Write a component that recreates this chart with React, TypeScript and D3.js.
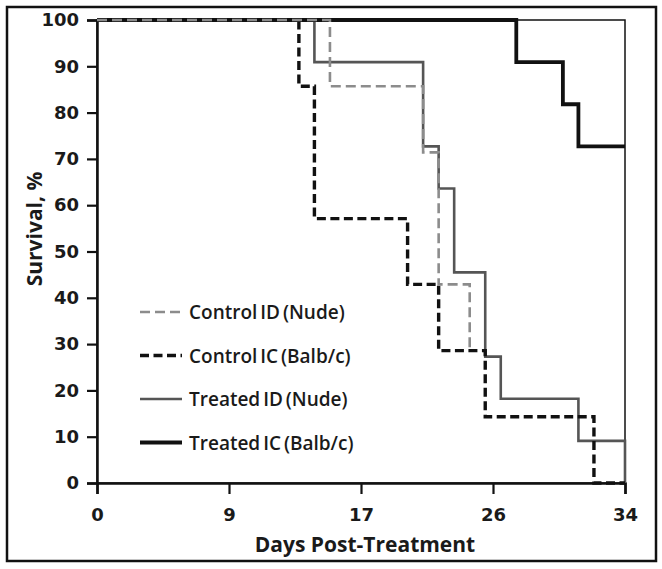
import React, { useEffect, useRef } from "react";
import * as d3 from "d3";

// survival curves (days, % surviving)
const controlIdDays = [0, 15, 21, 22, 24];
const controlIdSurv = [100, 85.7, 71.4, 42.9, 28.6];

const controlIcDays = [0, 13, 14, 20, 22, 25, 32, 34];
const controlIcSurv = [100, 85.7, 57.1, 42.9, 28.6, 14.3, 0, 0];

const treatedIdDays = [0, 14, 21, 22, 23, 25, 26, 31, 34];
const treatedIdSurv = [100, 90.9, 72.7, 63.6, 45.5, 27.3, 18.2, 9.1, 0];

const treatedIcDays = [0, 27, 30, 31, 34];
const treatedIcSurv = [100, 90.9, 81.8, 72.7, 72.7];

const seriesNames = [
  "Control ID (Nude)",
  "Control IC (Balb/c)",
  "Treated ID (Nude)",
  "Treated IC (Balb/c)",
];

const xTicks = [0, 8.5, 17, 25.5, 34];
const yTicks = [0, 10, 20, 30, 40, 50, 60, 70, 80, 90, 100];

const App = () => {
  const ref = useRef<SVGSVGElement | null>(null);

  useEffect(() => {
    document.body.style.margin = "0";
    const svg = d3.select(ref.current);
    svg.selectAll("*").remove();

    const W = 662;
    const H = 569;
    const margin = { top: 20, left: 97, right: 37, bottom: 86 };
    const width = W - margin.left - margin.right;
    const height = H - margin.top - margin.bottom;

    // outer frame
    svg
      .append("rect")
      .attr("x", 7)
      .attr("y", 7)
      .attr("width", 649)
      .attr("height", 554)
      .attr("fill", "none")
      .attr("stroke", "#111")
      .attr("stroke-width", 2.5);

    const g = svg
      .append("g")
      .attr("transform", `translate(${margin.left},${margin.top})`);

    const x = d3.scaleLinear().domain([0, 34]).range([0, width]);
    const y = d3.scaleLinear().domain([0, 100]).range([height, 0]);

    // plot box (top / right)
    g.append("rect")
      .attr("width", width)
      .attr("height", height)
      .attr("fill", "none")
      .attr("stroke", "#111")
      .attr("stroke-width", 1.5);

    const tickFont = "'DejaVu Sans', Verdana, sans-serif";

    const xAxis = g
      .append("g")
      .attr("transform", `translate(0,${height})`)
      .call(
        d3
          .axisBottom(x)
          .tickValues(xTicks)
          .tickSize(11)
          .tickPadding(14)
          .tickFormat((d) => String(Math.round(+d)))
      );
    const yAxis = g.append("g").call(
      d3.axisLeft(y).tickValues(yTicks).tickSize(10).tickPadding(8)
    );

    [xAxis, yAxis].forEach((a) => {
      a.select(".domain").attr("stroke", "#111").attr("stroke-width", 2.5);
      a.selectAll(".tick line").attr("stroke", "#111").attr("stroke-width", 2.2);
      a.selectAll(".tick text")
        .attr("fill", "#1a1a1a")
        .style("font-family", tickFont)
        .style("font-weight", "bold")
        .style("font-size", "18px");
    });

    const line = d3
      .line<[number, number]>()
      .x((d) => x(d[0]))
      .y((d) => y(d[1]))
      .curve(d3.curveStepAfter);

    const zip = (a: number[], b: number[]) =>
      a.map((d, i) => [d, b[i]] as [number, number]);

    const series = [
      { name: seriesNames[0], pts: zip(controlIdDays, controlIdSurv), color: "#8c8c8c", w: 2.6, dash: "10,5" },
      { name: seriesNames[1], pts: zip(controlIcDays, controlIcSurv), color: "#111", w: 3.4, dash: "9,4.5" },
      { name: seriesNames[2], pts: zip(treatedIdDays, treatedIdSurv), color: "#555", w: 2.6, dash: null },
      { name: seriesNames[3], pts: zip(treatedIcDays, treatedIcSurv), color: "#111", w: 3.8, dash: null },
    ];

    const drawOrder = [2, 3, 1, 0];
    drawOrder.forEach((i) => {
      const s = series[i];
      g.append("path")
        .attr("d", line(s.pts))
        .attr("fill", "none")
        .attr("stroke", s.color)
        .attr("stroke-width", s.w)
        .attr("stroke-dasharray", s.dash)
        .attr("stroke-linejoin", "miter");
    });

    // legend
    const legend = svg.append("g");
    series.forEach((s, i) => {
      const ly = 312 + i * 43.5;
      legend
        .append("line")
        .attr("x1", 140)
        .attr("x2", 182)
        .attr("y1", ly)
        .attr("y2", ly)
        .attr("stroke", s.color)
        .attr("stroke-width", s.w)
        .attr("stroke-dasharray", s.dash);
      legend
        .append("text")
        .attr("x", 189)
        .attr("y", ly + 7)
        .attr("fill", "#1a1a1a")
        .style("font-family", "'Open Sans', sans-serif")
        .style("font-size", "19px")
        .style("font-weight", 600)
        .style("word-spacing", "-2px")
        .text(s.name);
    });

    // axis titles
    svg
      .append("text")
      .attr("x", margin.left + width / 2 + 4)
      .attr("y", 552)
      .attr("text-anchor", "middle")
      .attr("fill", "#1a1a1a")
      .style("font-family", "'Open Sans', sans-serif")
      .style("font-size", "21px")
      .style("font-weight", "bold")
      .text("Days Post-Treatment");

    svg
      .append("text")
      .attr("transform", "rotate(-90)")
      .attr("x", -229)
      .attr("y", 42)
      .attr("text-anchor", "middle")
      .attr("fill", "#1a1a1a")
      .style("font-family", "'Open Sans', sans-serif")
      .style("font-size", "21px")
      .style("font-weight", "bold")
      .text("Survival, %");
  }, []);

  return <svg ref={ref} width={662} height={569} style={{ display: "block" }} />;
};

export default App;
